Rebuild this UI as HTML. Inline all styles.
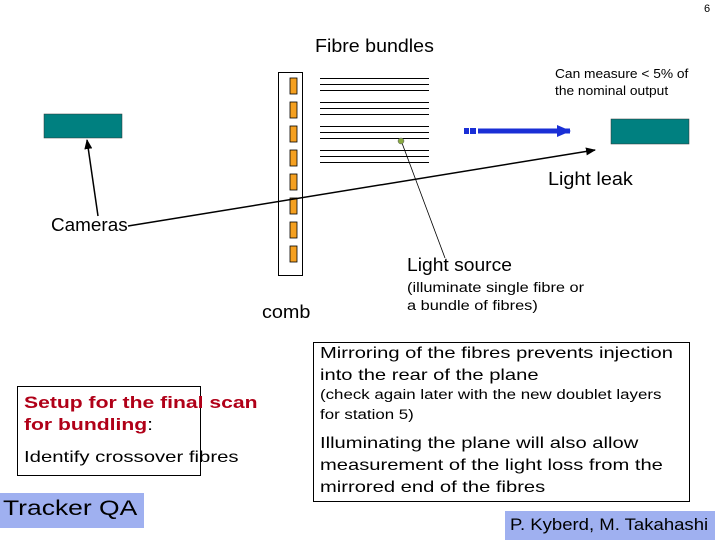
<!DOCTYPE html>
<html><head><meta charset="utf-8"><style>
body{margin:0;width:720px;height:540px;background:#fff;position:relative;overflow:hidden;font-family:"Comic Sans MS","Liberation Sans",sans-serif;}
.t{position:absolute;white-space:nowrap;color:#000;transform-origin:0 0;}
</style></head><body>
<svg width="720" height="540" style="position:absolute;left:0;top:0">
<defs><marker id="a" markerWidth="10" markerHeight="8" refX="9" refY="4" orient="auto" markerUnits="userSpaceOnUse"><path d="M0,0 L10,4 L0,8 Z" fill="#000"/></marker>
<marker id="b" markerWidth="14" markerHeight="12" refX="13" refY="6" orient="auto" markerUnits="userSpaceOnUse"><path d="M0,0 L14,6 L0,12 Z" fill="#1a2fd6"/></marker></defs>
<rect x="44" y="114" width="78" height="24" fill="#008080" stroke="#333" stroke-width="0.5"/>
<rect x="611" y="119" width="78" height="25" fill="#008080" stroke="#333" stroke-width="0.5"/>
<rect x="278.5" y="72.5" width="24" height="203" fill="#fff" stroke="#000"/>
<g fill="#f5a020" stroke="#000" stroke-width="0.8">
<rect x="290" y="78" width="7" height="16"/><rect x="290" y="102" width="7" height="16"/>
<rect x="290" y="126" width="7" height="16"/><rect x="290" y="150" width="7" height="16"/>
<rect x="290" y="174" width="7" height="16"/><rect x="290" y="198" width="7" height="16"/>
<rect x="290" y="222" width="7" height="16"/><rect x="290" y="246" width="7" height="16"/>
</g>
<g stroke="#000" stroke-width="1">
<line x1="320" y1="78.5" x2="429" y2="78.5"/><line x1="320" y1="84.5" x2="429" y2="84.5"/><line x1="320" y1="90.5" x2="429" y2="90.5"/>
<line x1="320" y1="102.5" x2="429" y2="102.5"/><line x1="320" y1="108.5" x2="429" y2="108.5"/><line x1="320" y1="114.5" x2="429" y2="114.5"/>
<line x1="320" y1="126.5" x2="429" y2="126.5"/><line x1="320" y1="132.5" x2="429" y2="132.5"/><line x1="320" y1="138.5" x2="429" y2="138.5"/>
<line x1="320" y1="150.5" x2="429" y2="150.5"/><line x1="320" y1="156.5" x2="429" y2="156.5"/><line x1="320" y1="162.5" x2="429" y2="162.5"/>
</g>
<line x1="128" y1="226" x2="595" y2="150" stroke="#000" stroke-width="1.5" marker-end="url(#a)"/>
<line x1="98" y1="216" x2="87" y2="140" stroke="#000" stroke-width="1.5" marker-end="url(#a)"/>
<line x1="402" y1="143" x2="445" y2="258" stroke="#000" stroke-width="0.8"/>
<circle cx="401" cy="141" r="3" fill="#8aaa40" stroke="#556" stroke-width="0.5"/>
<rect x="464" y="128" width="5" height="6" fill="#1a2fd6"/><rect x="470" y="128" width="6" height="6" fill="#1a2fd6"/>
<line x1="478" y1="131" x2="570" y2="131" stroke="#1a2fd6" stroke-width="5" marker-end="url(#b)"/>
<rect x="17.5" y="386.5" width="183" height="89" fill="none" stroke="#000"/>
<rect x="313.5" y="342.5" width="376" height="159" fill="none" stroke="#000"/>
<rect x="0" y="493" width="144" height="35" fill="#9fb0f0"/>
<rect x="505" y="511" width="210" height="29" fill="#9fb0f0"/>
</svg>
<div class="t" style="left:704px;top:3px;font-size:11px">6</div>
<div class="t" style="left:315px;top:36px;font-size:18px;transform:scaleX(1.09)">Fibre bundles</div>
<div class="t" style="left:555px;top:66px;font-size:12.5px;line-height:17px;transform:scaleX(1.1)">Can measure &lt; 5% of<br>the nominal output</div>
<div class="t" style="left:548px;top:169px;font-size:18px;transform:scaleX(1.1)">Light leak</div>
<div class="t" style="left:51px;top:215px;font-size:18px;transform:scaleX(1.05)">Cameras</div>
<div class="t" style="left:407px;top:255px;font-size:18px;transform:scaleX(1.07)">Light source</div>
<div class="t" style="left:407px;top:279px;font-size:13.5px;line-height:18px;transform:scaleX(1.21)">(illuminate single fibre or<br>a bundle of fibres)</div>
<div class="t" style="left:262px;top:302px;font-size:18px;transform:scaleX(1.1)">comb</div>
<div class="t" style="left:320px;top:343px;font-size:16px;line-height:22px;transform:scaleX(1.26)">Mirroring of the fibres prevents injection<br>into the rear of the plane</div>
<div class="t" style="left:320px;top:385px;font-size:13.5px;line-height:20px;transform:scaleX(1.25)">(check again later with the new doublet layers<br>for station 5)</div>
<div class="t" style="left:320px;top:433px;font-size:16px;line-height:22px;transform:scaleX(1.26)">Illuminating the plane will also allow<br>measurement of the light loss from the<br>mirrored end of the fibres</div>
<div class="t" style="left:24px;top:392px;font-size:16.5px;line-height:22px;color:#b00018;font-weight:bold;transform:scaleX(1.28)">Setup for the final scan<br>for bundling<span style="color:#000;font-weight:normal">:</span></div>
<div class="t" style="left:24px;top:449px;font-size:16px;transform:scaleX(1.27)">Identify crossover fibres</div>
<div class="t" style="left:3px;top:497px;font-size:21px;transform:scaleX(1.26)">Tracker QA</div>
<div class="t" style="left:510px;top:515px;font-size:17px;transform:scaleX(1.09)">P. Kyberd, M. Takahashi</div>
</body></html>
